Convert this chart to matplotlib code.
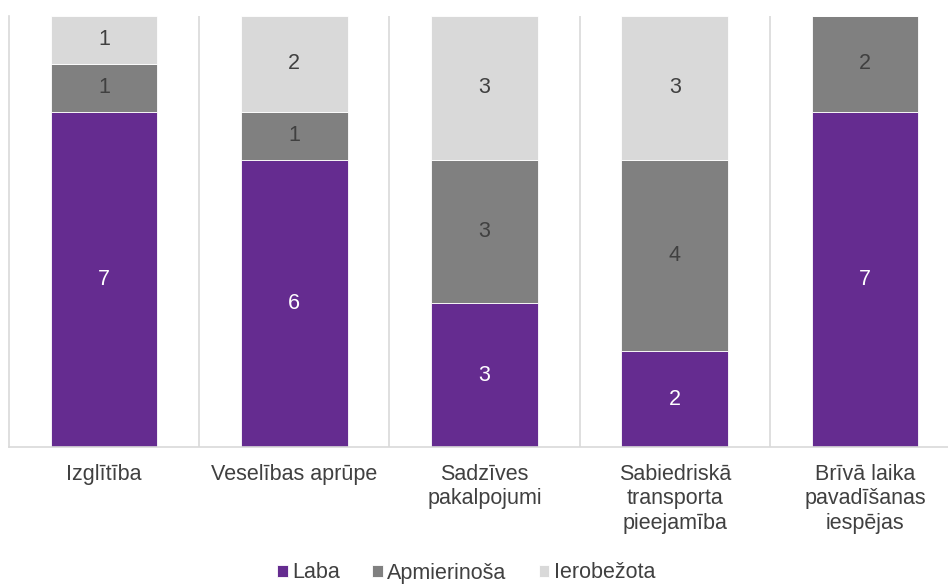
import matplotlib.pyplot as plt
import numpy as np

plt.rcParams['font.family'] = ['Liberation Sans', 'DejaVu Sans']

categories = ["Izglītība", "Veselības aprūpe", "Sadzīves\npakalpojumi",
              "Sabiedriskā\ntransporta\npieejamība", "Brīvā laika\npavadīšanas\niespējas"]
laba = [7, 6, 3, 2, 7]
apmierinosa = [1, 1, 3, 4, 2]
ierobezota = [1, 2, 3, 3, 0]

series = [("Laba", laba, "#652C90", "white"),
          ("Apmierinoša", apmierinosa, "#808080", "#404040"),
          ("Ierobežota", ierobezota, "#D9D9D9", "#404040")]

fig = plt.figure(figsize=(9.48, 5.85), dpi=100)
# axes runs a bit past the right edge, like the original
ax = fig.add_axes([9 / 948, 138 / 585, 951 / 948, 431 / 585])

x = np.arange(len(categories))
bottom = np.zeros(len(categories))
for name, vals, color, tcolor in series:
    vals = np.array(vals, dtype=float)
    ax.bar(x, vals, 0.56, bottom=bottom, color=color, label=name,
           edgecolor="white", linewidth=0.6, zorder=2)
    for xi, b, v in zip(x, bottom, vals):
        if v > 0:
            ax.text(xi, b + v / 2, f"{int(v)}", ha="center", va="center",
                    color=tcolor, fontsize=15.5, zorder=3)
    bottom += vals

ax.set_xlim(-0.5, len(categories) - 0.5)
ax.set_ylim(0, 9)
ax.set_yticks([])
ax.set_xticks(x)
ax.set_xticklabels(categories, fontsize=15.5, color="#404040", linespacing=1.22)
ax.tick_params(axis="x", length=0, pad=12)

for b in np.arange(0.5, len(categories), 1.0):
    ax.axvline(b, color="#D9D9D9", linewidth=1.2, zorder=1)

for s in ["top", "right"]:
    ax.spines[s].set_visible(False)
ax.spines["left"].set_color("#D9D9D9")
ax.spines["left"].set_linewidth(1.2)
ax.spines["bottom"].set_color("#D9D9D9")
ax.spines["bottom"].set_linewidth(1.2)

fig.legend(loc="center", bbox_to_anchor=(466 / 948, 1 - 573 / 585), ncol=3,
           frameon=False, fontsize=15.5, handlelength=0.5, handleheight=0.5,
           handletextpad=0.2, columnspacing=1.5, labelcolor="#404040",
           borderpad=0.1)

fig.savefig("out.png", dpi=100)
